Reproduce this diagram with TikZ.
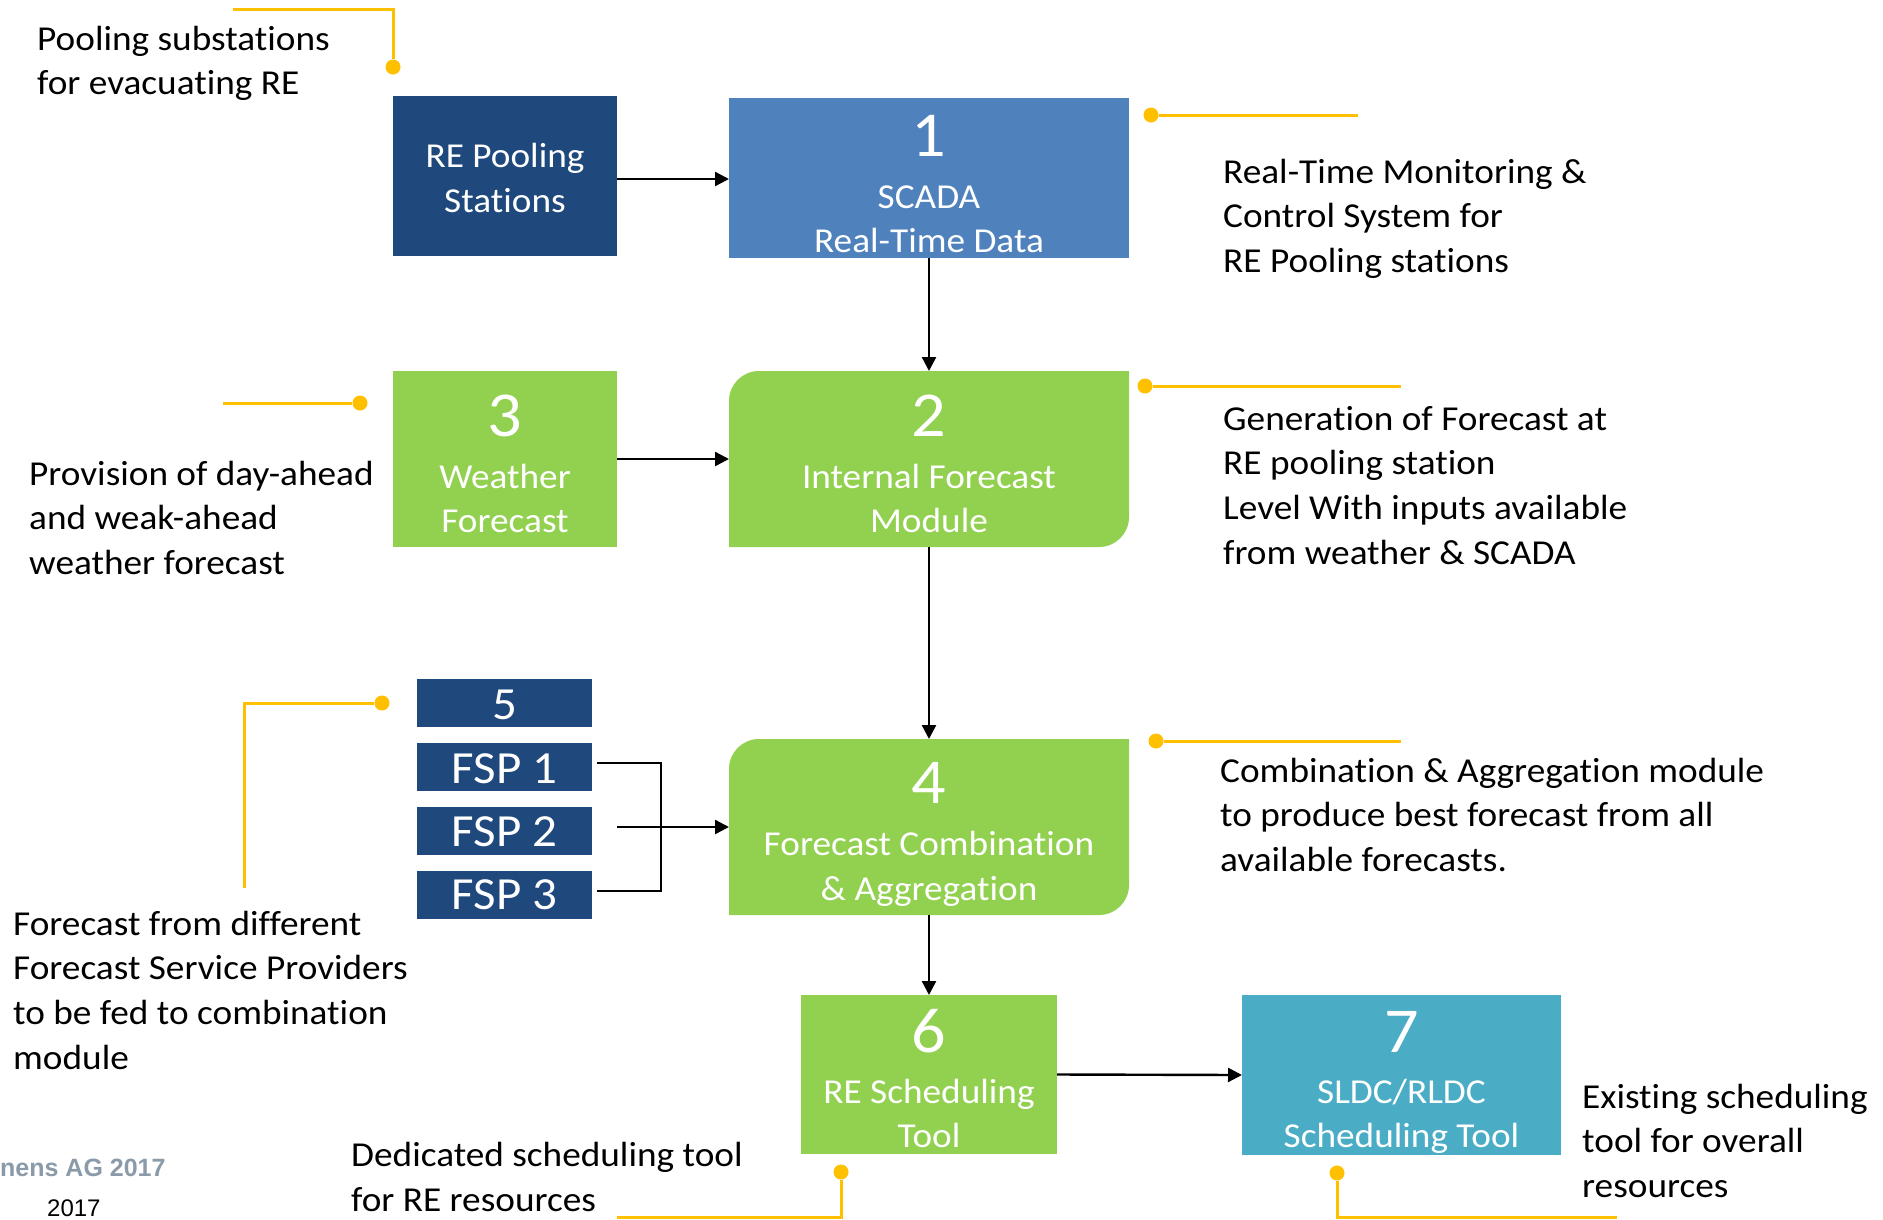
\documentclass[tikz,border=0pt]{standalone}
\usepackage{fontspec}
\setmainfont[FakeStretch=1.065,RawFeature={-liga;-calt;-dlig;-clig}]{Carlito}
\newfontfamily\arialfont{Liberation Sans}
\usetikzlibrary{arrows.meta,calc}
\definecolor{navy}{HTML}{1F497D}
\definecolor{scblue}{HTML}{4F81BD}
\definecolor{grn}{HTML}{92D050}
\definecolor{teal7}{HTML}{4BACC6}
\definecolor{yel}{HTML}{FFC000}
\definecolor{foot}{HTML}{8A9AA8}
\tikzset{
  blk/.style={rectangle, inner sep=0pt, outer sep=0pt},
  rdiag/.style={path picture={
    \fill[#1] (path picture bounding box.south west)
      -- ($(path picture bounding box.north west)+(0,30)$)
      .. controls ($(path picture bounding box.north west)+(0,13.4)$) and ($(path picture bounding box.north west)+(13.4,0)$) ..
         ($(path picture bounding box.north west)+(30,0)$)
      -- (path picture bounding box.north east)
      -- ($(path picture bounding box.south east)+(0,-30)$)
      .. controls ($(path picture bounding box.south east)+(0,-13.4)$) and ($(path picture bounding box.south east)+(-13.4,0)$) ..
         ($(path picture bounding box.south east)+(-30,0)$)
      -- cycle;}},
  btxt/.style={text=white, align=center, inner sep=0pt, anchor=base, font=\fontsize{35}{44.7}\selectfont},
  bnum/.style={text=white, inner sep=0pt, anchor=base, font=\fontsize{64}{64}\selectfont},
  fsptxt/.style={text=white, inner sep=0pt, anchor=base, font=\fontsize{46}{46}\selectfont},
  ann/.style={align=left, inner sep=0pt, anchor=base west, font=\fontsize{35}{44.7}\selectfont},
  arr/.style={-{Triangle[length=14pt,width=14pt]}, line width=2.4pt},
  plainln/.style={line width=2.4pt},
  yl/.style={draw=yel, line width=3pt},
  ydot/.style={circle, fill=yel, minimum size=15pt, inner sep=0pt},
}
\begin{document}
\begin{tikzpicture}[x=1pt,y=-1pt]
\useasboundingbox (0,0) rectangle (1883,1219);
\fill[white] (0,0) rectangle (1883,1219);

% boxes
\node[blk, fill=navy, minimum width=224pt, minimum height=160pt] (pool) at (505,176) {};
\node[blk, fill=scblue, minimum width=400pt, minimum height=160pt] (scada) at (929,178) {};
\node[blk, fill=grn, minimum width=224pt, minimum height=176pt] (wx) at (505,459) {};
\node[blk, rdiag=grn, minimum width=400pt, minimum height=176pt] (ifm) at (929,459) {};
\node[blk, fill=navy, minimum width=175pt, minimum height=48pt] (b5) at (504.5,703) {};
\node[blk, fill=navy, minimum width=175pt, minimum height=48pt] (fsp1) at (504.5,767) {};
\node[blk, fill=navy, minimum width=175pt, minimum height=48pt] (fsp2) at (504.5,831) {};
\node[blk, fill=navy, minimum width=175pt, minimum height=48pt] (fsp3) at (504.5,895) {};
\node[blk, rdiag=grn, minimum width=400pt, minimum height=176pt] (b4) at (929,827) {};
\node[blk, fill=grn, minimum width=256pt, minimum height=159pt] (b6) at (929,1074.5) {};
\node[blk, fill=teal7, minimum width=319pt, minimum height=160pt] (b7) at (1401.5,1075) {};

% box texts (anchor = baseline of last line)
\node[btxt] (tpool) at (505,212) {RE Pooling\\Stations};
\node[bnum] (n1) at (929,156) {1};
\node[btxt] (tscada) at (929,252.7) {SCADA\\Real-Time Data};
\node[bnum] (n3) at (505,436) {3};
\node[btxt] (twx) at (505,532.7) {Weather\\Forecast};
\node[bnum] (n2) at (929,436) {2};
\node[btxt] (tifm) at (929,532.7) {Internal Forecast\\Module};
\node[fsptxt] (n5) at (504.5,719) {5};
\node[fsptxt] (tf1) at (504.5,783) {FSP 1};
\node[fsptxt] (tf2) at (504.5,846) {FSP 2};
\node[fsptxt] (tf3) at (504.5,909) {FSP 3};
\node[bnum] (n4) at (929,803) {4};
\node[btxt] (tb4) at (929,900.5) {Forecast Combination\\\& Aggregation};
\node[bnum] (n6) at (929,1052) {6};
\node[btxt] (tb6) at (929,1147.7) {RE Scheduling\\Tool};
\node[bnum] (n7) at (1401.5,1052) {7};
\node[btxt] (tb7) at (1401.5,1147.7) {SLDC/RLDC\\Scheduling Tool};

% arrows
\coordinate (pe) at ($(pool.east)+(0,3)$);
\draw[arr] (pe) -- (pe -| scada.west);
\draw[arr] (scada.south) -- (ifm.north);
\draw[arr] (wx.east) -- (ifm.west);
\draw[arr] (ifm.south) -- (b4.north);
\draw[arr] (b4.south) -- (b6.north);
\draw[arr] (b6.east) -- (b7.west);
\coordinate (fj) at (661,827);
\coordinate (f2s) at (617,827);
\coordinate (f1e) at ($(fsp1.east)+(5,-4)$);
\coordinate (f3e) at ($(fsp3.east)+(5,-4)$);
\draw[plainln] (f1e) -| (fj) |- (f3e);
\draw[arr] (f2s) -- (b4.west);

% yellow callouts
\node[ydot] (d1) at (393,67) {};
\coordinate (d1e) at (233,9);
\draw[yl] (d1e) -| (d1);
\node[ydot] (d2) at (1151,115) {};
\coordinate (d2e) at (1358,115);
\draw[yl] (d2) -- (d2e);
\node[ydot] (d3) at (360,403) {};
\coordinate (d3e) at (223,403);
\draw[yl] (d3e) -- (d3);
\node[ydot] (d4) at (1145,386) {};
\coordinate (d4e) at (1401,386);
\draw[yl] (d4) -- (d4e);
\node[ydot] (d5) at (382,703) {};
\coordinate (d5e) at (244,888);
\draw[yl] (d5) -| (d5e);
\node[ydot] (d6) at (1156,741) {};
\coordinate (d6e) at (1401,741);
\draw[yl] (d6) -- (d6e);
\node[ydot] (d7) at (841,1172) {};
\coordinate (d7e) at (617,1217);
\draw[yl] (d7) |- (d7e);
\node[ydot] (d8) at (1337,1173) {};
\coordinate (d8e) at (1617,1217);
\draw[yl] (d8) |- (d8e);

% annotation texts (anchor = baseline of last line)
\node[ann] (a1) at (37,94.7) {Pooling substations\\for evacuating RE};
\node[ann] (a2) at (1223,272.4) {Real-Time Monitoring \&\\Control System for\\RE Pooling stations};
\node[ann] (a3) at (29,574.4) {Provision of day-ahead\\and weak-ahead\\weather forecast};
\node[ann] (a4) at (1223,564.1) {Generation of Forecast at\\RE pooling station\\Level With inputs available\\from weather \& SCADA};
\node[ann] (a5) at (13,1069.1) {Forecast from different\\Forecast Service Providers\\to be fed to combination\\module};
\node[ann] (a6) at (1220,871.4) {Combination \& Aggregation module\\to produce best forecast from all\\available forecasts.};
\node[ann] (a7) at (351,1211) {Dedicated scheduling tool\\for RE resources};
\node[ann] (a8) at (1582,1197.4) {Existing scheduling\\tool for overall\\resources};

% footer
\node[anchor=base west, inner sep=0pt, text=foot, font=\arialfont\bfseries\fontsize{25}{30}\selectfont] (ft1) at (0,1176) {nens AG 2017};
\node[anchor=base west, inner sep=0pt, font=\arialfont\fontsize{24}{28}\selectfont] (ft2) at (47,1216) {2017};
\end{tikzpicture}
\end{document}
